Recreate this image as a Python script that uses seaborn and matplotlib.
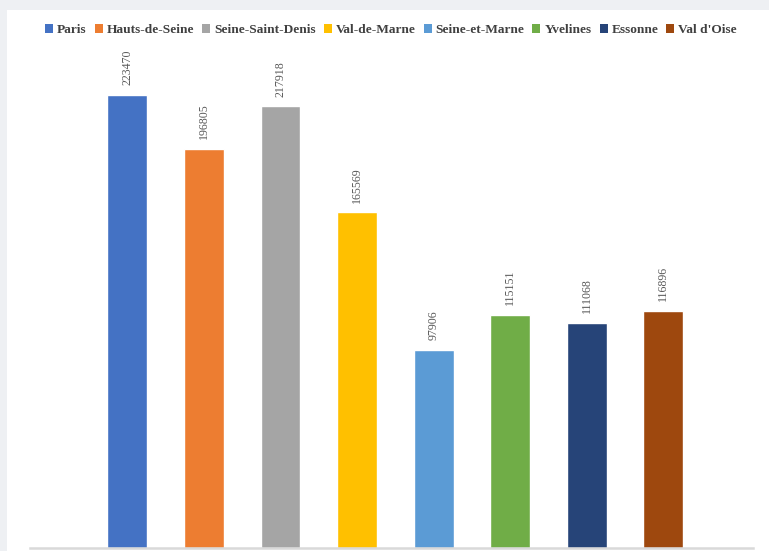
import matplotlib
matplotlib.use("Agg")
import matplotlib.pyplot as plt
from matplotlib.patches import Rectangle, Patch
import seaborn as sns
import pandas as pd

departments = ["Paris", "Hauts-de-Seine", "Seine-Saint-Denis", "Val-de-Marne",
               "Seine-et-Marne", "Yvelines", "Essonne", "Val d'Oise"]
values = [223470, 196805, 217918, 165569, 97906, 115151, 111068, 116896]
colors = ["#4472C4", "#ED7D31", "#A5A5A5", "#FFC000",
          "#5B9BD5", "#70AD47", "#264478", "#9E480E"]

df = pd.DataFrame({"dept": departments, "value": values})

sns.set_theme(style="white")
plt.rcParams["font.family"] = ["Liberation Serif", "DejaVu Serif"]

W, H = 769, 551
fig = plt.figure(figsize=(W / 100, H / 100), dpi=100, facecolor="#eef0f3")
# white panel
fig.patches.append(Rectangle((7 / W, 0), 1 - 7 / W, 1 - 10 / H,
                             transform=fig.transFigure, facecolor="white",
                             edgecolor="none", zorder=-5))

ax = fig.add_axes([30 / W, 3 / H, (753 - 30) / W, (548 - 60) / H])
ax.set_facecolor("none")
ax.set_zorder(2)

sns.barplot(data=df, x="dept", y="value", hue="dept", order=departments,
            hue_order=departments, palette=colors, dodge=False, width=0.52,
            legend=False, saturation=1, ax=ax)

for cont in ax.containers:
    ax.bar_label(cont, labels=[f"{int(v)}" for v in cont.datavalues],
                 rotation=90, padding=7, fontsize=8.6, color="#595959")

ax.set_xlim(-1.27, 8.17)
ax.set_ylim(0, 488 * 493.3)
ax.set_xticks([])
ax.set_yticks([])
ax.set_xlabel("")
ax.set_ylabel("")
for s in ["top", "right", "left"]:
    ax.spines[s].set_visible(False)
ax.spines["bottom"].set_color("#d9d9d9")
ax.spines["bottom"].set_linewidth(1.8)

handles = [Patch(facecolor=c, edgecolor="none") for c in colors]
leg = fig.legend(handles, departments, loc="center", bbox_to_anchor=(391 / W, 1 - 30 / H),
                 ncol=8, frameon=False, prop={"size": 9.6, "weight": "bold"},
                 handlelength=0.6, handleheight=0.6,
                 handletextpad=0.3, columnspacing=0.6, labelcolor="#404040")
leg.set_zorder(3)

fig.savefig("out.png", dpi=100, facecolor=fig.get_facecolor())
